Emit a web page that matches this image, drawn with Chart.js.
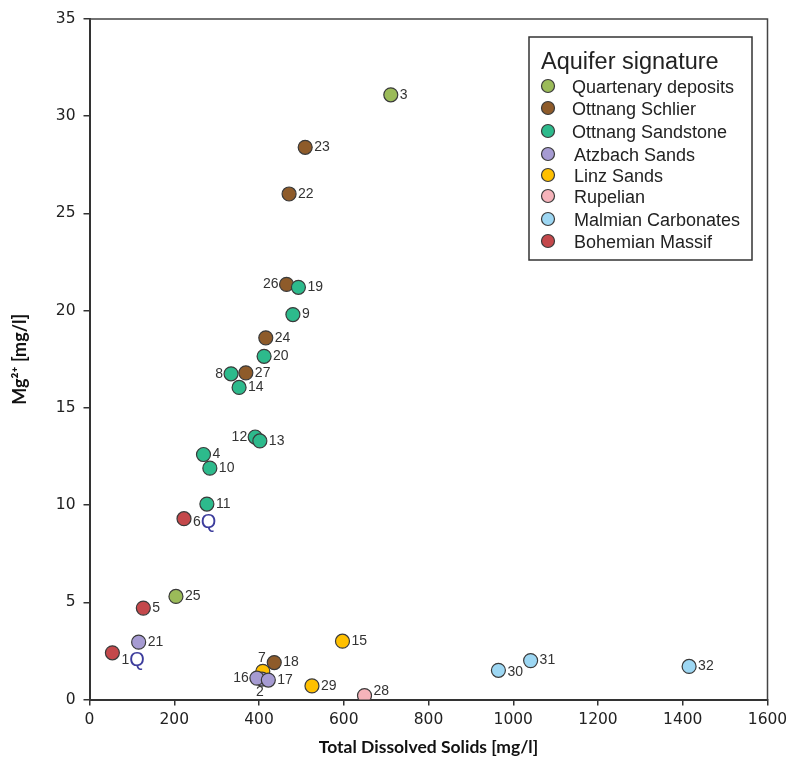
<!DOCTYPE html>
<html>
<head>
<meta charset="utf-8">
<script src="https://cdn.jsdelivr.net/npm/chart.js@4.4.0/dist/chart.umd.min.js"></script>
<style>
    html, body { margin: 0; padding: 0; background: #fff; }
    #wrap { width: 793px; height: 762px; }
</style>
</head>
<body>
<div id="wrap"><canvas id="chart" width="793" height="762"></canvas></div>
<script>
// Mg2+ vs TDS scatter, one dataset per aquifer

const seriesNames = ['Quartenary deposits', 'Ottnang Schlier', 'Ottnang Sandstone', 'Atzbach Sands',
    'Linz Sands', 'Rupelian', 'Malmian Carbonates', 'Bohemian Massif'];
const seriesColors = ['#9BBB59', '#8E5B2A', '#2DBA8C', '#A69BD2', '#FFC000', '#F5B3BA', '#9DD7F3', '#C4484B'];
const seriesOrder = [1, 2, 0, 3, 4, 5, 6, 7];

const quartenaryIds = [3, 25];
const quartenaryTds = [711, 204];
const quartenaryMg = [31.1, 5.3];

const schlierIds = [23, 22, 26, 24, 27, 18];
const schlierTds = [509, 471, 465, 416, 369, 436];
const schlierMg = [28.4, 26.0, 21.35, 18.6, 16.8, 1.9];

const sandstoneIds = [19, 9, 20, 8, 14, 12, 13, 4, 10, 11];
const sandstoneTds = [493, 480, 412, 334, 353, 391, 402, 269, 284, 277];
const sandstoneMg = [21.2, 19.8, 17.65, 16.75, 16.05, 13.5, 13.3, 12.6, 11.9, 10.05];

const atzbachIds = [21, 2, 16, 17];
const atzbachTds = [116, 407, 395, 422];
const atzbachMg = [2.95, 1.05, 1.1, 1.0];

const linzIds = [7, 15, 29];
const linzTds = [409, 597, 525];
const linzMg = [1.45, 3.0, 0.7];

const rupelianIds = [28];
const rupelianTds = [649];
const rupelianMg = [0.2];

const malmianIds = [30, 31, 32];
const malmianTds = [965, 1041, 1415];
const malmianMg = [1.5, 2.0, 1.7];

const bohemianIds = [6, 5, 1];
const bohemianTds = [223, 127, 54];
const bohemianMg = [9.3, 4.7, 2.4];

const xTitle = 'Total Dissolved Solids [mg/l]';
const yTitle = 'Mg\u00B2\u207A [mg/l]';
const legendTitle = 'Aquifer signature';
const qSamples = [1, 6];

// label placement that differs from "right of the marker"
const labelPlace = { 26: 'left', 8: 'left', 12: 'left', 16: 'left', 7: 'above', 2: 'below' };
const labelShift = { 1: 7, 6: 3, 28: -4, 30: 2 };

const groups = [
    [quartenaryIds, quartenaryTds, quartenaryMg],
    [schlierIds, schlierTds, schlierMg],
    [sandstoneIds, sandstoneTds, sandstoneMg],
    [atzbachIds, atzbachTds, atzbachMg],
    [linzIds, linzTds, linzMg],
    [rupelianIds, rupelianTds, rupelianMg],
    [malmianIds, malmianTds, malmianMg],
    [bohemianIds, bohemianTds, bohemianMg]
];

const datasets = groups.map((g, i) => ({
    label: seriesNames[i],
    data: g[0].map((id, k) => ({ x: g[1][k], y: g[2][k], id: id })),
    backgroundColor: seriesColors[i],
    borderColor: '#3a3a3a',
    borderWidth: 1.2,
    pointRadius: 7,
    pointHoverRadius: 7,
    order: seriesOrder[i]
}));

const frame = {
    id: 'frame',
    beforeDatasetsDraw(chart) {
        const { ctx, chartArea: a } = chart;
        ctx.save();
        ctx.strokeStyle = '#444';
        ctx.lineWidth = 1.5;
        ctx.beginPath();
        ctx.moveTo(a.left, a.top);
        ctx.lineTo(a.right, a.top);
        ctx.lineTo(a.right, a.bottom);
        ctx.stroke();
        ctx.restore();
    }
};

const pointLabels = {
    id: 'pointLabels',
    afterDatasetsDraw(chart) {
        const ctx = chart.ctx;
        ctx.save();
        chart.data.datasets.forEach((ds, i) => {
            const meta = chart.getDatasetMeta(i);
            meta.data.forEach((pt, k) => {
                const id = ds.data[k].id;
                const place = labelPlace[id] || 'right';
                const dy = labelShift[id] || 0;
                const text = String(id);
                ctx.font = '14px "Liberation Sans", Arial, sans-serif';
                ctx.fillStyle = '#333';
                ctx.textBaseline = 'middle';
                let tx = pt.x + 9, ty = pt.y + dy;
                if (place === 'left') {
                    ctx.textAlign = 'right';
                    tx = pt.x - 8;
                } else if (place === 'above') {
                    ctx.textAlign = 'center';
                    tx = pt.x - 1;
                    ty = pt.y - 13;
                } else if (place === 'below') {
                    ctx.textAlign = 'center';
                    ty = pt.y + 13;
                    tx = pt.x - 2;
                } else {
                    ctx.textAlign = 'left';
                }
                ctx.fillText(text, tx, ty);
                if (qSamples.includes(id)) {
                    const w = ctx.measureText(text).width;
                    ctx.font = '20px "Liberation Sans", Arial, sans-serif';
                    ctx.fillStyle = '#3C3C9C';
                    ctx.textAlign = 'left';
                    ctx.fillText('Q', tx + w, ty + 1);
                }
            });
        });
        ctx.restore();
    }
};

const boxLegend = {
    id: 'boxLegend',
    afterDraw(chart) {
        const ctx = chart.ctx;
        const left = 529, top = 37, right = 752, bottom = 260;
        const rows = [88, 110, 133, 156, 177, 198, 221, 243];
        ctx.save();
        ctx.fillStyle = '#fff';
        ctx.fillRect(left, top, right - left, bottom - top);
        ctx.strokeStyle = '#333';
        ctx.lineWidth = 1.5;
        ctx.strokeRect(left, top, right - left, bottom - top);
        ctx.fillStyle = '#222';
        ctx.textAlign = 'left';
        ctx.textBaseline = 'middle';
        ctx.font = '23.5px "Liberation Sans", Arial, sans-serif';
        ctx.fillText(legendTitle, 541, 63);
        ctx.font = '18px "Liberation Sans", Arial, sans-serif';
        seriesNames.forEach((name, i) => {
            ctx.beginPath();
            ctx.arc(548, rows[i] - 2, 6.5, 0, Math.PI * 2);
            ctx.fillStyle = seriesColors[i];
            ctx.fill();
            ctx.strokeStyle = '#3a3a3a';
            ctx.lineWidth = 1.2;
            ctx.stroke();
            ctx.fillStyle = '#222';
            ctx.fillText(name, i < 3 ? 572 : 574, rows[i]);
        });
        ctx.restore();
    }
};

const tickFont = { family: '"DejaVu Sans", Verdana, sans-serif', size: 15.5 };
const titleFont = { family: 'Lato, "Open Sans", sans-serif', size: 17.5, weight: 'bold' };

new Chart(document.getElementById('chart'), {
    type: 'scatter',
    data: { datasets: datasets },
    options: {
        responsive: false,
        animation: false,
        devicePixelRatio: 1,
        layout: { padding: { left: 0, top: 19, right: 25.5, bottom: 0 } },
        plugins: { legend: { display: false }, tooltip: { enabled: false } },
        scales: {
            x: {
                type: 'linear',
                min: 0, max: 1600,
                ticks: { stepSize: 200, color: '#222', font: tickFont, padding: 5, maxRotation: 0,
                    callback: (v) => String(v) },
                grid: { drawOnChartArea: false, tickLength: 6, color: '#333', lineWidth: 1.5 },
                border: { color: '#333', width: 2 },
                title: { display: true, text: xTitle, color: '#111', font: titleFont, padding: { top: 0, bottom: 4.5 } },
                afterFit: (s) => { s.height = 62.5; }
            },
            y: {
                type: 'linear',
                min: 0, max: 35,
                ticks: { stepSize: 5, color: '#222', font: tickFont, padding: 8,
                    callback: (v) => String(v) },
                grid: { drawOnChartArea: false, tickLength: 6, color: '#333', lineWidth: 1.5 },
                border: { color: '#333', width: 2 },
                title: { display: true, text: yTitle, color: '#111', font: { family: titleFont.family, size: 18, weight: 'bold' },
                    padding: { top: 9, bottom: 0 } },
                afterFit: (s) => { s.width = 89.5; }
            }
        }
    },
    plugins: [frame, pointLabels, boxLegend]
});
</script>
</body>
</html>
